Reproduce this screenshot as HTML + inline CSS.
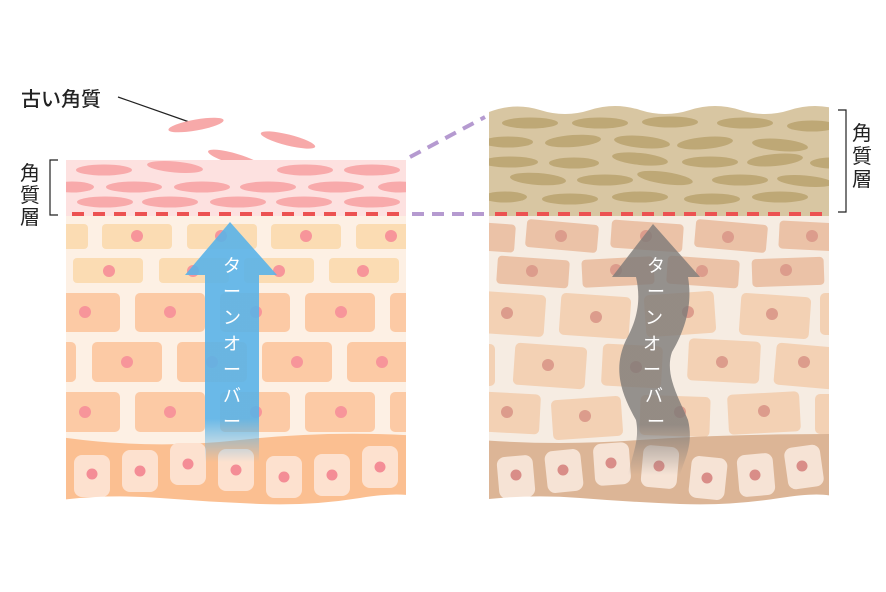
<!DOCTYPE html>
<html><head><meta charset="utf-8"><style>
html,body{margin:0;padding:0;background:#fff;width:886px;height:592px;overflow:hidden}
svg{display:block}
text{font-family:"Liberation Sans","Noto Sans CJK JP",sans-serif}
</style></head><body>
<svg width="886" height="592" viewBox="0 0 886 592" xmlns="http://www.w3.org/2000/svg">
<defs>
<linearGradient id="bl" x1="0" y1="0" x2="0" y2="1"><stop offset="0.82" stop-color="#5ab3e8" stop-opacity="0.9"/><stop offset="1" stop-color="#5ab3e8" stop-opacity="0"/></linearGradient>
<linearGradient id="gr" x1="0" y1="0" x2="0" y2="1"><stop offset="0.8" stop-color="#7d7a78" stop-opacity="0.8"/><stop offset="1" stop-color="#7d7a78" stop-opacity="0"/></linearGradient>
<clipPath id="cl"><rect x="66" y="150" width="340" height="370"/></clipPath>
<clipPath id="cr"><rect x="489" y="100" width="340" height="420"/></clipPath>
</defs>
<!-- labels -->
<text x="21" y="106" font-size="20" fill="#222" font-weight="500">古い角質</text>
<line x1="118" y1="97" x2="195" y2="124" stroke="#222" stroke-width="1.2"/>
<text x="20" y="180" font-size="20" fill="#222">角</text>
<text x="20" y="202" font-size="20" fill="#222">質</text>
<text x="20" y="224" font-size="20" fill="#222">層</text>
<path d="M58 160 H50 V215 H58" fill="none" stroke="#222" stroke-width="1.2"/>
<text x="852" y="140" font-size="20" fill="#222">角</text>
<text x="852" y="163" font-size="20" fill="#222">質</text>
<text x="852" y="186" font-size="20" fill="#222">層</text>
<path d="M838 110 H846 V212 H838" fill="none" stroke="#222" stroke-width="1.2"/>
<!-- purple dashed -->
<path d="M410 157 L485 117" stroke="#b59ad0" stroke-width="4" stroke-dasharray="12 8"/>
<path d="M412 214 H485" stroke="#b59ad0" stroke-width="4" stroke-dasharray="12 8"/>
<!-- floating old flakes -->
<ellipse cx="196" cy="125" rx="28" ry="5.5" fill="#f7a9a9" transform="rotate(-10 196 125)"/>
<ellipse cx="288" cy="140" rx="28" ry="5.5" fill="#f7a9a9" transform="rotate(14 288 140)"/>
<ellipse cx="235" cy="159" rx="28" ry="5.5" fill="#f7a9a9" transform="rotate(16 235 159)"/>

<!-- LEFT PANEL -->
<g clip-path="url(#cl)">
<rect x="66" y="160" width="340" height="56" fill="#fde1e0"/>
<g fill="#f8aaab">
<ellipse cx="104" cy="170" rx="28" ry="5.5"/><ellipse cx="175" cy="167" rx="28" ry="5.5" transform="rotate(5 175 167)"/><ellipse cx="305" cy="170" rx="28" ry="5.5"/><ellipse cx="372" cy="170" rx="28" ry="5.5"/>
<ellipse cx="72" cy="187" rx="22" ry="5.5"/><ellipse cx="134" cy="187" rx="28" ry="5.5"/><ellipse cx="202" cy="187" rx="28" ry="5.5"/><ellipse cx="268" cy="187" rx="28" ry="5.5"/><ellipse cx="336" cy="187" rx="28" ry="5.5"/><ellipse cx="400" cy="187" rx="22" ry="5.5"/>
<ellipse cx="105" cy="202" rx="28" ry="5.5"/><ellipse cx="170" cy="202" rx="28" ry="5.5"/><ellipse cx="238" cy="202" rx="28" ry="5.5"/><ellipse cx="304" cy="202" rx="28" ry="5.5"/><ellipse cx="372" cy="202" rx="28" ry="5.5"/>
</g>
<rect x="66" y="216" width="340" height="294" fill="#fdf0e4"/>
<g fill="#fbdcb3">
<rect x="60" y="224" width="28" height="25" rx="4"/><rect x="102" y="224" width="70" height="25" rx="4"/><rect x="187" y="224" width="70" height="25" rx="4"/><rect x="271" y="224" width="70" height="25" rx="4"/><rect x="356" y="224" width="70" height="25" rx="4"/>
<rect x="73" y="258" width="70" height="25" rx="4"/><rect x="159" y="258" width="70" height="25" rx="4"/><rect x="244" y="258" width="70" height="25" rx="4"/><rect x="329" y="258" width="70" height="25" rx="4"/>
</g>
<g fill="#fccaa5">
<rect x="55" y="293" width="65" height="39" rx="5"/><rect x="135" y="293" width="70" height="39" rx="5"/><rect x="220" y="293" width="70" height="39" rx="5"/><rect x="305" y="293" width="70" height="39" rx="5"/><rect x="390" y="293" width="40" height="39" rx="5"/>
<rect x="50" y="342" width="26" height="40" rx="5"/><rect x="92" y="342" width="70" height="40" rx="5"/><rect x="177" y="342" width="70" height="40" rx="5"/><rect x="262" y="342" width="70" height="40" rx="5"/><rect x="347" y="342" width="70" height="40" rx="5"/>
<rect x="55" y="392" width="65" height="40" rx="5"/><rect x="135" y="392" width="70" height="40" rx="5"/><rect x="220" y="392" width="70" height="40" rx="5"/><rect x="305" y="392" width="70" height="40" rx="5"/><rect x="390" y="392" width="40" height="40" rx="5"/>
</g>
<g fill="#f7959a">
<circle cx="137" cy="236" r="6"/><circle cx="221" cy="236" r="6"/><circle cx="306" cy="236" r="6"/><circle cx="391" cy="236" r="6"/>
<circle cx="109" cy="271" r="6"/><circle cx="193" cy="271" r="6"/><circle cx="279" cy="271" r="6"/><circle cx="363" cy="271" r="6"/>
<circle cx="85" cy="312" r="6"/><circle cx="170" cy="312" r="6"/><circle cx="256" cy="312" r="6"/><circle cx="341" cy="312" r="6"/>
<circle cx="127" cy="362" r="6"/><circle cx="212" cy="362" r="6"/><circle cx="297" cy="362" r="6"/><circle cx="382" cy="362" r="6"/>
<circle cx="85" cy="412" r="6"/><circle cx="170" cy="412" r="6"/><circle cx="256" cy="412" r="6"/><circle cx="341" cy="412" r="6"/>
</g>
<path d="M60 437 Q150 450 240 440 T420 436 V520 H60Z" fill="#fbbf91"/>
<g fill="#fde1cf">
<rect x="74" y="455" width="36" height="42" rx="8"/><rect x="122" y="450" width="36" height="42" rx="8"/><rect x="170" y="443" width="36" height="42" rx="8"/><rect x="218" y="449" width="36" height="42" rx="8"/><rect x="266" y="456" width="36" height="42" rx="8"/><rect x="314" y="454" width="36" height="42" rx="8"/><rect x="362" y="446" width="36" height="42" rx="8"/>
</g>
<g fill="#f48d96">
<circle cx="92" cy="474" r="5.5"/><circle cx="140" cy="471" r="5.5"/><circle cx="188" cy="464" r="5.5"/><circle cx="236" cy="470" r="5.5"/><circle cx="284" cy="477" r="5.5"/><circle cx="332" cy="475" r="5.5"/><circle cx="380" cy="467" r="5.5"/>
</g>
<path d="M60 500 Q110 494 160 498 T260 504 T360 498 T420 500 V520 H60Z" fill="#fff"/>
</g>
<path d="M72 214 H406" stroke="#ec5252" stroke-width="4" stroke-dasharray="12 9"/>
<path d="M230 222 L277 275 H259 V462 H205 V275 H185 Z" fill="url(#bl)"/>
<text font-size="18" fill="#fff" text-anchor="middle"><tspan x="232" y="272">タ</tspan><tspan x="232" y="298">ー</tspan><tspan x="232" y="324">ン</tspan><tspan x="232" y="350">オ</tspan><tspan x="232" y="376">ー</tspan><tspan x="232" y="402">バ</tspan><tspan x="232" y="428">ー</tspan></text>

<!-- RIGHT PANEL -->
<g clip-path="url(#cr)">
<path d="M489 112 Q515 102 540 110 T590 110 T640 110 T690 110 T740 110 T790 110 T840 110 V216 H489Z" fill="#d8c6a2"/>
<g fill="#bea876">
<ellipse cx="530" cy="123" rx="28" ry="5.5"/><ellipse cx="600" cy="123" rx="28" ry="5.5"/><ellipse cx="670" cy="122" rx="28" ry="5.5"/><ellipse cx="745" cy="123" rx="28" ry="5.5"/><ellipse cx="812" cy="126" rx="25" ry="5.5"/>
<ellipse cx="508" cy="142" rx="25" ry="5.5"/><ellipse cx="573" cy="141" rx="28" ry="6" transform="rotate(-4 573 141)"/><ellipse cx="642" cy="142" rx="28" ry="6" transform="rotate(5 642 142)"/><ellipse cx="705" cy="143" rx="28" ry="6" transform="rotate(-5 705 143)"/><ellipse cx="780" cy="145" rx="28" ry="6" transform="rotate(5 780 145)"/>
<ellipse cx="510" cy="162" rx="28" ry="5.5"/><ellipse cx="574" cy="163" rx="25" ry="5.5"/><ellipse cx="640" cy="159" rx="28" ry="6" transform="rotate(6 640 159)"/><ellipse cx="710" cy="162" rx="28" ry="5.5"/><ellipse cx="775" cy="160" rx="28" ry="6" transform="rotate(-5 775 160)"/><ellipse cx="832" cy="163" rx="22" ry="5.5"/>
<ellipse cx="538" cy="179" rx="28" ry="6" transform="rotate(4 538 179)"/><ellipse cx="605" cy="180" rx="28" ry="5.5"/><ellipse cx="665" cy="178" rx="28" ry="6" transform="rotate(8 665 178)"/><ellipse cx="740" cy="180" rx="28" ry="5.5"/><ellipse cx="805" cy="181" rx="28" ry="5.5" transform="rotate(5 805 181)"/>
<ellipse cx="505" cy="197" rx="22" ry="5.5"/><ellipse cx="570" cy="199" rx="28" ry="5.5"/><ellipse cx="640" cy="197" rx="28" ry="5.5"/><ellipse cx="712" cy="199" rx="28" ry="5.5"/><ellipse cx="780" cy="197" rx="28" ry="5.5"/>
</g>
<rect x="489" y="216" width="345" height="294" fill="#f6ece2"/>
<g fill="#ebc2a7">
<rect x="470" y="223" width="45" height="28" rx="4" transform="rotate(4 490 237)"/><rect x="526" y="222" width="72" height="28" rx="4" transform="rotate(5 562 236)"/><rect x="611" y="222" width="72" height="28" rx="4" transform="rotate(4 647 236)"/><rect x="695" y="222" width="72" height="28" rx="4" transform="rotate(5 731 236)"/><rect x="779" y="222" width="60" height="28" rx="4" transform="rotate(3 810 236)"/>
<rect x="497" y="258" width="72" height="28" rx="4" transform="rotate(4 533 272)"/><rect x="582" y="258" width="72" height="28" rx="4" transform="rotate(-3 618 272)"/><rect x="667" y="258" width="72" height="28" rx="4" transform="rotate(4 703 272)"/><rect x="752" y="258" width="72" height="28" rx="4" transform="rotate(-2 788 272)"/>
</g>
<g fill="#f3d1b4">
<rect x="480" y="293" width="65" height="42" rx="5" transform="rotate(4 512 314)"/><rect x="560" y="295" width="70" height="42" rx="5" transform="rotate(4 595 316)"/><rect x="645" y="293" width="70" height="42" rx="5" transform="rotate(-4 680 314)"/><rect x="740" y="295" width="70" height="42" rx="5" transform="rotate(4 775 316)"/><rect x="820" y="293" width="30" height="42" rx="5"/>
<rect x="470" y="344" width="25" height="42" rx="5"/><rect x="514" y="345" width="72" height="42" rx="5" transform="rotate(4 550 366)"/><rect x="602" y="345" width="60" height="42" rx="5" transform="rotate(3 632 366)"/><rect x="688" y="340" width="72" height="42" rx="5" transform="rotate(3 724 361)"/><rect x="775" y="345" width="60" height="42" rx="5" transform="rotate(5 805 366)"/>
<rect x="480" y="393" width="60" height="40" rx="5" transform="rotate(3 510 413)"/><rect x="552" y="398" width="70" height="40" rx="5" transform="rotate(-4 587 418)"/><rect x="640" y="396" width="70" height="40" rx="5" transform="rotate(2 675 416)"/><rect x="728" y="393" width="72" height="40" rx="5" transform="rotate(-3 764 413)"/><rect x="815" y="394" width="30" height="40" rx="5"/>
</g>
<g fill="#dc9c8c">
<circle cx="561" cy="236" r="6"/><circle cx="646" cy="236" r="6"/><circle cx="728" cy="237" r="6"/><circle cx="812" cy="236" r="6"/>
<circle cx="532" cy="271" r="6"/><circle cx="616" cy="270" r="6"/><circle cx="702" cy="271" r="6"/><circle cx="786" cy="270" r="6"/>
<circle cx="507" cy="313" r="6"/><circle cx="596" cy="317" r="6"/><circle cx="688" cy="312" r="6"/><circle cx="772" cy="314" r="6"/>
<circle cx="548" cy="365" r="6"/><circle cx="636" cy="367" r="6"/><circle cx="722" cy="362" r="6"/><circle cx="804" cy="362" r="6"/>
<circle cx="507" cy="412" r="6"/><circle cx="585" cy="416" r="6"/><circle cx="680" cy="412" r="6"/><circle cx="764" cy="411" r="6"/>
</g>
<path d="M480 440 Q560 446 640 440 T840 434 V520 H480Z" fill="#dcb596"/>
<g fill="#f6e3d5">
<rect x="498" y="456" width="36" height="42" rx="8" transform="rotate(-5 516 477)"/><rect x="546" y="450" width="36" height="42" rx="8" transform="rotate(-6 564 471)"/><rect x="594" y="443" width="36" height="42" rx="8" transform="rotate(-4 612 464)"/><rect x="642" y="446" width="36" height="42" rx="8" transform="rotate(5 660 467)"/><rect x="690" y="457" width="36" height="42" rx="8" transform="rotate(6 708 478)"/><rect x="738" y="454" width="36" height="42" rx="8" transform="rotate(-5 756 475)"/><rect x="786" y="446" width="36" height="42" rx="8" transform="rotate(-8 804 467)"/>
</g>
<g fill="#d98d88">
<circle cx="516" cy="475" r="5.5"/><circle cx="563" cy="470" r="5.5"/><circle cx="611" cy="463" r="5.5"/><circle cx="659" cy="466" r="5.5"/><circle cx="707" cy="478" r="5.5"/><circle cx="755" cy="475" r="5.5"/><circle cx="802" cy="466" r="5.5"/>
</g>
<path d="M480 500 Q530 494 580 498 T680 504 T780 498 T840 500 V520 H480Z" fill="#fff"/>
</g>
<path d="M495 214 H826" stroke="#ec5252" stroke-width="4" stroke-dasharray="12 9"/>
<path d="M653 224 L700 277 H688 C692 300 688 325 672 352 C664 375 680 400 688 420 C694 445 684 460 680 475 H628 C632 455 640 440 636 420 C622 395 612 370 626 340 C640 315 640 295 636 277 H612 Z" fill="url(#gr)"/>
<text font-size="18" fill="#fff" text-anchor="middle"><tspan x="656" y="272">タ</tspan><tspan x="656" y="298">ー</tspan><tspan x="654" y="324">ン</tspan><tspan x="652" y="350">オ</tspan><tspan x="652" y="376">ー</tspan><tspan x="654" y="402">バ</tspan><tspan x="656" y="428">ー</tspan></text>
</svg>
</body></html>
